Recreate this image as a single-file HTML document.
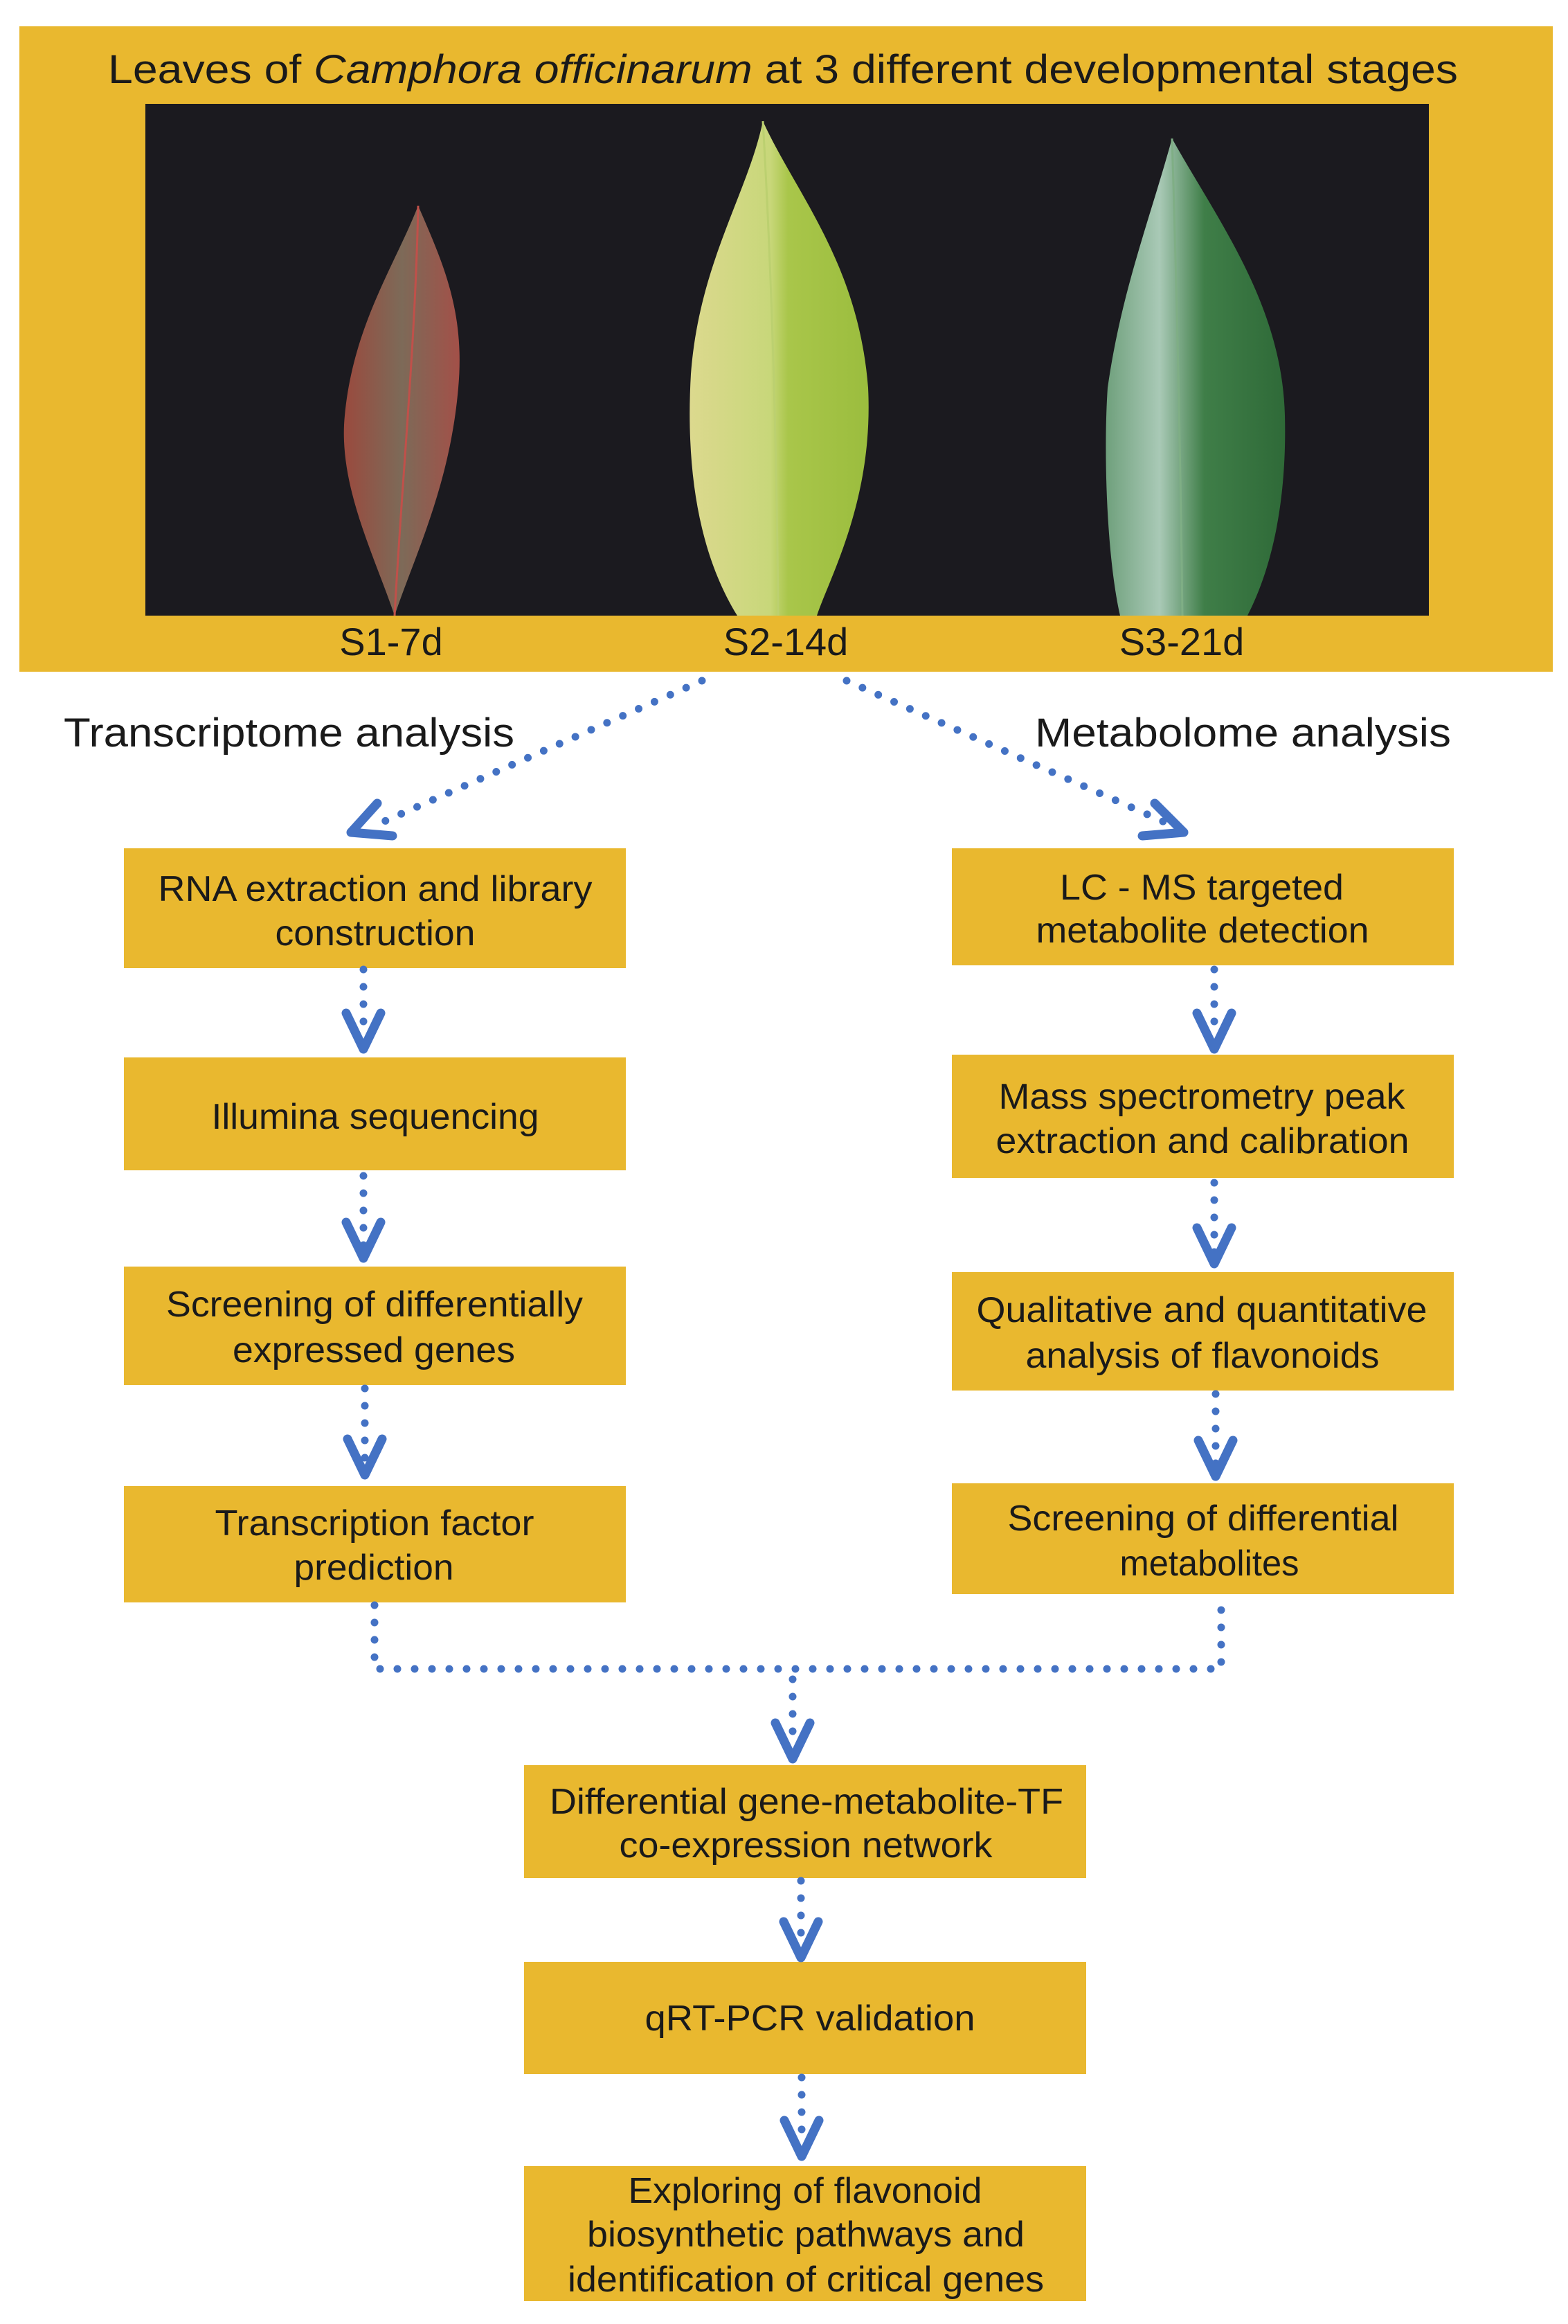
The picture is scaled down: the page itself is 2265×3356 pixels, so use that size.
<!DOCTYPE html>
<html><head><meta charset="utf-8"><style>
html,body{margin:0;padding:0;background:#fff;}
svg{display:block;}
text{font-family:"Liberation Sans",Arial,sans-serif;fill:#1a1a1a;}
</style></head><body>
<svg width="2265" height="3356" viewBox="0 0 2265 3356" xmlns="http://www.w3.org/2000/svg">
<defs>
<linearGradient id="g1" x1="0" x2="1" y1="0" y2="0"><stop offset="0" stop-color="#9a4a3e"/><stop offset="0.5" stop-color="#7d6a58"/><stop offset="1" stop-color="#a35048"/></linearGradient>
<linearGradient id="g2" x1="0" x2="1" y1="0" y2="0"><stop offset="0" stop-color="#dcd98e"/><stop offset="0.45" stop-color="#c8d77a"/><stop offset="0.55" stop-color="#a9c64a"/><stop offset="1" stop-color="#9bbd3e"/></linearGradient>
<linearGradient id="g3" x1="0" x2="1" y1="0" y2="0"><stop offset="0" stop-color="#6fa07c"/><stop offset="0.3" stop-color="#a9c9b6"/><stop offset="0.55" stop-color="#3f7e48"/><stop offset="1" stop-color="#2f6a38"/></linearGradient>
</defs>
<!-- top panel -->
<rect x="28" y="38" width="2215" height="932" fill="#E9B82F"/>
<text x="1131" y="120" font-size="58" text-anchor="middle" textLength="1950" lengthAdjust="spacingAndGlyphs">Leaves of <tspan font-style="italic">Camphora officinarum</tspan> at 3 different developmental stages</text>
<rect x="210" y="150" width="1854" height="739" fill="#1b1a1f"/>
<!-- leaves -->
<path d="M604,297 C640,380 672,450 662,560 C650,700 600,800 570,889 C540,800 488,700 498,600 C510,470 572,380 604,297Z" fill="url(#g1)"/>
<path d="M604,297 C600,500 580,700 570,889" stroke="#c0504a" stroke-width="3" fill="none"/>
<path d="M1102,175 C1150,280 1240,380 1254,560 C1262,720 1200,830 1180,889 L1065,889 C1010,800 990,680 998,540 C1010,380 1080,280 1102,175Z" fill="url(#g2)"/>
<path d="M1102,175 C1115,400 1122,650 1124,889" stroke="#bcd070" stroke-width="3" fill="none"/>
<path d="M1693,200 C1760,320 1852,440 1856,600 C1860,760 1822,850 1802,889 L1618,889 C1598,800 1594,650 1600,560 C1620,420 1660,320 1693,200Z" fill="url(#g3)"/>
<path d="M1693,200 C1700,420 1705,650 1708,889" stroke="#7fae85" stroke-width="3" fill="none"/>
<text x="565" y="946" font-size="56" text-anchor="middle">S1-7d</text>
<text x="1135" y="946" font-size="56" text-anchor="middle">S2-14d</text>
<text x="1707" y="946" font-size="56" text-anchor="middle">S3-21d</text>
<text x="92" y="1078" font-size="58" textLength="651" lengthAdjust="spacingAndGlyphs">Transcriptome analysis</text>
<text x="1495" y="1078" font-size="58" textLength="601" lengthAdjust="spacingAndGlyphs">Metabolome analysis</text>

<g fill="#E9B82F">
<rect x="179" y="1225" width="725" height="173"/>
<rect x="179" y="1527" width="725" height="163"/>
<rect x="179" y="1829" width="725" height="171"/>
<rect x="179" y="2146" width="725" height="168"/>
<rect x="1375" y="1225" width="725" height="169"/>
<rect x="1375" y="1523" width="725" height="178"/>
<rect x="1375" y="1837" width="725" height="171"/>
<rect x="1375" y="2142" width="725" height="160"/>
<rect x="757" y="2549" width="812" height="163"/>
<rect x="757" y="2833" width="812" height="162"/>
<rect x="757" y="3128" width="812" height="195"/>
</g>
<g font-size="52" text-anchor="middle">
<text x="542" y="1301" textLength="627" lengthAdjust="spacingAndGlyphs">RNA extraction and library</text>
<text x="542" y="1365" textLength="289" lengthAdjust="spacingAndGlyphs">construction</text>
<text x="542" y="1630" textLength="473" lengthAdjust="spacingAndGlyphs">Illumina sequencing</text>
<text x="541" y="1901" textLength="602" lengthAdjust="spacingAndGlyphs">Screening of differentially</text>
<text x="540" y="1967" textLength="408" lengthAdjust="spacingAndGlyphs">expressed genes</text>
<text x="541" y="2217" textLength="461" lengthAdjust="spacingAndGlyphs">Transcription factor</text>
<text x="540" y="2281" textLength="231" lengthAdjust="spacingAndGlyphs">prediction</text>
<text x="1736" y="1299" textLength="410" lengthAdjust="spacingAndGlyphs">LC - MS targeted</text>
<text x="1737" y="1361" textLength="481" lengthAdjust="spacingAndGlyphs">metabolite detection</text>
<text x="1736" y="1601" textLength="587" lengthAdjust="spacingAndGlyphs">Mass spectrometry peak</text>
<text x="1737" y="1665" textLength="597" lengthAdjust="spacingAndGlyphs">extraction and calibration</text>
<text x="1736" y="1909" textLength="651" lengthAdjust="spacingAndGlyphs">Qualitative and quantitative</text>
<text x="1737" y="1975" textLength="511" lengthAdjust="spacingAndGlyphs">analysis of flavonoids</text>
<text x="1738" y="2210" textLength="565" lengthAdjust="spacingAndGlyphs">Screening of differential</text>
<text x="1747" y="2275" textLength="259" lengthAdjust="spacingAndGlyphs">metabolites</text>
<text x="1165" y="2619" textLength="742" lengthAdjust="spacingAndGlyphs">Differential gene-metabolite-TF</text>
<text x="1164" y="2682" textLength="539" lengthAdjust="spacingAndGlyphs">co-expression network</text>
<text x="1170" y="2932" textLength="477" lengthAdjust="spacingAndGlyphs">qRT-PCR validation</text>
<text x="1163" y="3181" textLength="511" lengthAdjust="spacingAndGlyphs">Exploring of flavonoid</text>
<text x="1164" y="3244" textLength="632" lengthAdjust="spacingAndGlyphs">biosynthetic pathways and</text>
<text x="1164" y="3309" textLength="688" lengthAdjust="spacingAndGlyphs">identification of critical genes</text>
</g>

<!-- connectors -->
<g stroke="#4472C4" fill="none" stroke-linecap="round" stroke-linejoin="round">
<g stroke-width="11" stroke-dasharray="0 25">
<path d="M1014,983 L535,1195"/>
<path d="M1223,983 L1700,1195"/>
<path d="M525,1400 L525,1500"/>
<path d="M525,1698 L525,1800"/>
<path d="M527,2005 L527,2118"/>
<path d="M1754,1400 L1754,1500"/>
<path d="M1754,1708 L1754,1810"/>
<path d="M1756,2013 L1756,2115"/>
<path d="M541,2318 L541,2410 L1764,2410 L1764,2305"/>
<path d="M1145,2425 L1145,2520"/>
<path d="M1157,2716 L1157,2810"/>
<path d="M1158,3000 L1158,3100"/>
</g>
<g stroke-width="13">
<path d="M545,1160 L507,1202 L567,1207"/>
<path d="M1668,1160 L1710,1202 L1650,1207"/>
<path d="M500,1463 L525,1515 L550,1463"/>
<path d="M500,1765 L525,1817 L550,1765"/>
<path d="M502,2078 L527,2130 L552,2078"/>
<path d="M1729,1463 L1754,1515 L1779,1463"/>
<path d="M1729,1773 L1754,1825 L1779,1773"/>
<path d="M1731,2080 L1756,2132 L1781,2080"/>
<path d="M1120,2488 L1145,2540 L1170,2488"/>
<path d="M1132,2775 L1157,2827 L1182,2775"/>
<path d="M1133,3062 L1158,3114 L1183,3062"/>
</g>
</g>
</svg>
</body></html>
